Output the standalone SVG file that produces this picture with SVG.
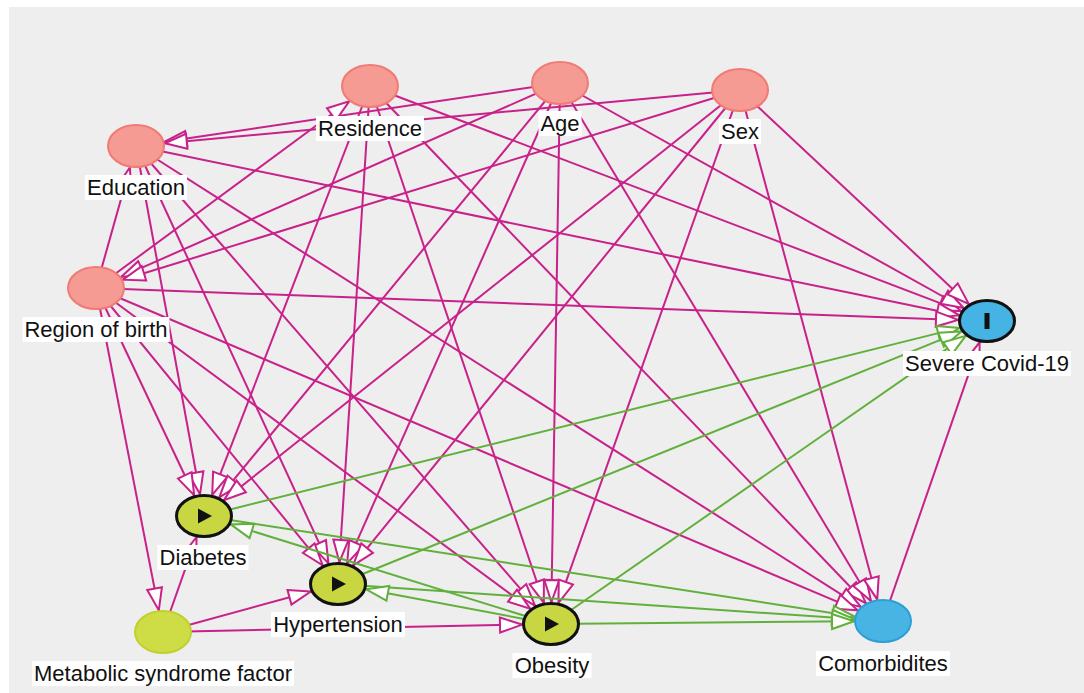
<svg xmlns="http://www.w3.org/2000/svg" width="1084" height="693" viewBox="0 0 1084 693">
<style>
.ep{stroke:#c8218a;stroke-width:2;marker-end:url(#ap)}
.eg{stroke:#62b03c;stroke-width:2;marker-end:url(#ag)}
.conf{fill:#f69a94;stroke:#f07a74;stroke-width:2}
.expo{fill:#c8d642;stroke:#111;stroke-width:3}
.lb{fill:#fff}
.tx{font-family:"Liberation Sans",Arial,sans-serif;font-size:22px;fill:#111;text-anchor:middle}
</style>
<defs>
<marker id="ap" markerUnits="userSpaceOnUse" markerWidth="26" markerHeight="18" refX="23" refY="8" orient="auto" overflow="visible"><path d="M1,0.5 L23,8 L1,15.5 Z" fill="#fff" stroke="#c8218a" stroke-width="2"/></marker>
<marker id="ag" markerUnits="userSpaceOnUse" markerWidth="26" markerHeight="18" refX="23" refY="8" orient="auto" overflow="visible"><path d="M1,0.5 L23,8 L1,15.5 Z" fill="#fff" stroke="#62b03c" stroke-width="2"/></marker>
</defs>
<rect x="0" y="0" width="1084" height="693" fill="#fff"/>
<rect x="9" y="7" width="1075" height="686" fill="#eeeeee"/>
<g id="connectors">
<line class="ep" x1="370" y1="86" x2="961.1" y2="311.1"/>
<line class="ep" x1="560" y1="83" x2="963.6" y2="308.0"/>
<line class="ep" x1="740" y1="90" x2="968.7" y2="303.9"/>
<line class="ep" x1="136" y1="146" x2="959.0" y2="315.2"/>
<line class="ep" x1="96" y1="288" x2="958.0" y2="319.9"/>
<line class="ep" x1="883" y1="621" x2="979.6" y2="342.3"/>
<line class="ep" x1="370" y1="86" x2="865.9" y2="603.2"/>
<line class="ep" x1="560" y1="83" x2="871.0" y2="601.0"/>
<line class="ep" x1="740" y1="90" x2="877.2" y2="599.4"/>
<line class="ep" x1="136" y1="146" x2="860.8" y2="606.9"/>
<line class="ep" x1="96" y1="288" x2="857.7" y2="610.3"/>
<line class="ep" x1="370" y1="86" x2="543.8" y2="602.7"/>
<line class="ep" x1="560" y1="83" x2="551.4" y2="602.0"/>
<line class="ep" x1="740" y1="90" x2="558.5" y2="602.8"/>
<line class="ep" x1="136" y1="146" x2="535.0" y2="605.6"/>
<line class="ep" x1="96" y1="288" x2="530.2" y2="608.7"/>
<line class="ep" x1="163" y1="632" x2="522.0" y2="624.6"/>
<line class="ep" x1="370" y1="86" x2="339.4" y2="562.0"/>
<line class="ep" x1="560" y1="83" x2="347.2" y2="563.2"/>
<line class="ep" x1="740" y1="90" x2="353.2" y2="565.3"/>
<line class="ep" x1="136" y1="146" x2="328.4" y2="563.2"/>
<line class="ep" x1="96" y1="288" x2="322.7" y2="565.3"/>
<line class="ep" x1="163" y1="632" x2="310.7" y2="591.5"/>
<line class="ep" x1="370" y1="86" x2="212.2" y2="494.9"/>
<line class="ep" x1="560" y1="83" x2="219.3" y2="497.3"/>
<line class="ep" x1="740" y1="90" x2="224.0" y2="500.1"/>
<line class="ep" x1="136" y1="146" x2="200.0" y2="494.2"/>
<line class="ep" x1="96" y1="288" x2="194.2" y2="495.3"/>
<line class="ep" x1="163" y1="632" x2="196.5" y2="537.2"/>
<line class="ep" x1="560" y1="83" x2="164.5" y2="141.8"/>
<line class="ep" x1="740" y1="90" x2="164.8" y2="143.3"/>
<line class="ep" x1="96" y1="288" x2="129.9" y2="167.5"/>
<line class="ep" x1="560" y1="83" x2="121.1" y2="276.9"/>
<line class="ep" x1="740" y1="90" x2="122.9" y2="279.7"/>
<line class="ep" x1="96" y1="288" x2="349.2" y2="101.3"/>
<line class="ep" x1="96" y1="288" x2="158.8" y2="610.2"/>
<line class="eg" x1="204" y1="516" x2="959.5" y2="327.9"/>
<line class="eg" x1="338" y1="584" x2="961.4" y2="331.4"/>
<line class="eg" x1="551" y1="624" x2="965.6" y2="335.9"/>
<line class="eg" x1="204" y1="516" x2="854.6" y2="616.6"/>
<line class="eg" x1="338" y1="584" x2="854.1" y2="619.0"/>
<line class="eg" x1="551" y1="624" x2="854.0" y2="621.3"/>
<line class="eg" x1="551" y1="624" x2="366.2" y2="589.3"/>
<line class="eg" x1="551" y1="624" x2="230.8" y2="524.4"/>
</g>
<g id="residence">
<ellipse class="conf" cx="370" cy="86" rx="28" ry="21"/>
<rect class="lb" x="316" y="116" width="108" height="25"/>
<text class="tx" x="370" y="136">Residence</text>
</g>
<g id="age">
<ellipse class="conf" cx="560" cy="83" rx="28" ry="21"/>
<rect class="lb" x="538.5" y="111" width="43" height="25"/>
<text class="tx" x="560" y="131">Age</text>
</g>
<g id="sex">
<ellipse class="conf" cx="740" cy="90" rx="28" ry="21"/>
<rect class="lb" x="719" y="119" width="42" height="25"/>
<text class="tx" x="740" y="139">Sex</text>
</g>
<g id="education">
<ellipse class="conf" cx="136" cy="146" rx="28" ry="21"/>
<rect class="lb" x="85" y="175" width="102" height="25"/>
<text class="tx" x="136" y="195">Education</text>
</g>
<g id="region-of-birth">
<ellipse class="conf" cx="96" cy="288" rx="28" ry="21"/>
<rect class="lb" x="22.5" y="317" width="147" height="25"/>
<text class="tx" x="96" y="337">Region of birth</text>
</g>
<g id="severe-covid">
<ellipse cx="987" cy="321" rx="27.5" ry="20.5" fill="#45b3e3" stroke="#111" stroke-width="3"/>
<rect x="984.5" y="313" width="5" height="16" fill="#111"/>
<rect class="lb" x="903" y="351" width="168" height="25"/>
<text class="tx" x="987" y="371">Severe Covid-19</text>
</g>
<g id="comorbidites">
<ellipse cx="883" cy="621" rx="28" ry="21" fill="#48b4e4" stroke="#2b9fd6" stroke-width="2"/>
<rect class="lb" x="816" y="651" width="134" height="25"/>
<text class="tx" x="883" y="671">Comorbidites</text>
</g>
<g id="diabetes">
<ellipse class="expo" cx="204" cy="516" rx="27.5" ry="20.5"/>
<polygon points="198,508.5 198,523.5 212,516" fill="#111"/>
<rect class="lb" x="157.5" y="545" width="91" height="25"/>
<text class="tx" x="203" y="565">Diabetes</text>
</g>
<g id="hypertension">
<ellipse class="expo" cx="338" cy="584" rx="27.5" ry="20.5"/>
<polygon points="332,576.5 332,591.5 346,584" fill="#111"/>
<rect class="lb" x="271" y="612" width="134" height="25"/>
<text class="tx" x="338" y="632">Hypertension</text>
</g>
<g id="obesity">
<ellipse class="expo" cx="551" cy="624" rx="27.5" ry="20.5"/>
<polygon points="545,616.5 545,631.5 559,624" fill="#111"/>
<rect class="lb" x="512.5" y="653" width="79" height="25"/>
<text class="tx" x="552" y="673">Obesity</text>
</g>
<g id="metabolic-syndrome-factor">
<ellipse cx="163" cy="632" rx="28" ry="21" fill="#cedc45" stroke="#bfd12e" stroke-width="2"/>
<rect class="lb" x="32" y="661" width="262" height="25"/>
<text class="tx" x="163" y="681">Metabolic syndrome factor</text>
</g>
</svg>
